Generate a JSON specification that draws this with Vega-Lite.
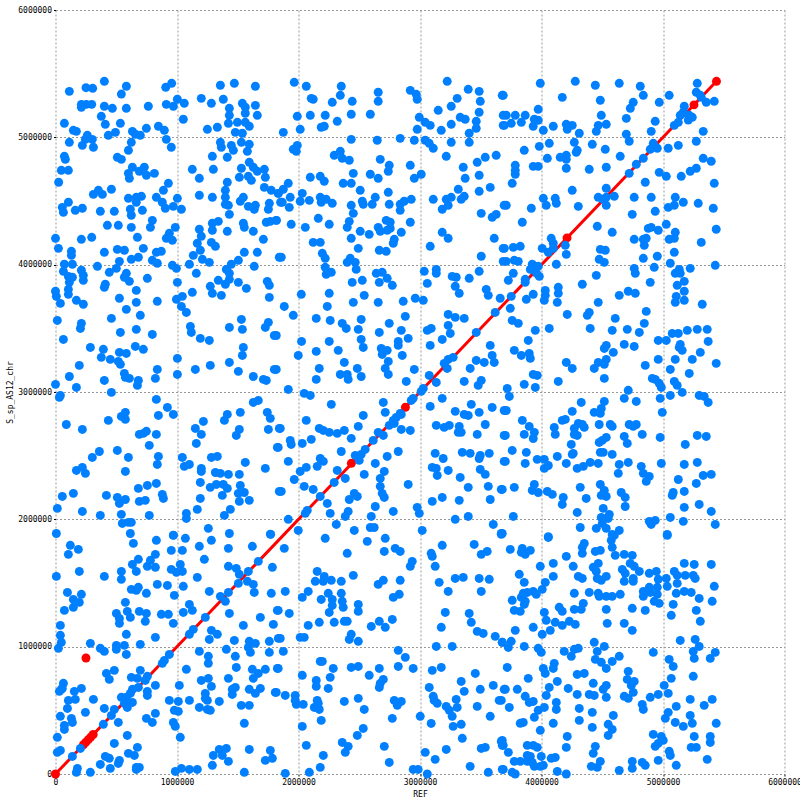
{"$schema":"https://vega.github.io/schema/vega-lite/v6.json","width":729,"height":764,"autosize":"none","padding":{"left":55.5,"top":10,"right":15.5,"bottom":26},"background":"white","config":{"view":{"stroke":null},"axis":{"grid":true,"gridColor":"#999999","gridDash":[2,2],"gridWidth":1,"domain":false,"tickColor":"#000000","tickSize":2,"labelFont":"DejaVu Sans Mono","labelFontSize":8,"labelColor":"#000000","labelPadding":2,"titleFont":"DejaVu Sans Mono","titleFontSize":8,"titleFontWeight":"normal","titleColor":"#000000","labelOverlap":false,"labelBound":false,"labelFlush":false}},"datasets":{"alignment":[{"x":0,"y":0},{"x":5440000,"y":5440000}],"matches":[{"x":0,"y":0},{"x":230000,"y":230000},{"x":250000,"y":250000},{"x":270000,"y":270000},{"x":290000,"y":290000},{"x":310000,"y":310000},{"x":251000,"y":911000},{"x":2435000,"y":2440000},{"x":2880000,"y":2880000},{"x":4210000,"y":4210000},{"x":5440000,"y":5440000}],"top":[{"x":5255000,"y":5255000}],"points":[{"x":114000,"y":5361000},{"x":251000,"y":5390000},{"x":306000,"y":5385000},{"x":402000,"y":5440000},{"x":583000,"y":5401000},{"x":542000,"y":5340000},{"x":907000,"y":5393000},{"x":956000,"y":5424000},{"x":213000,"y":5259000},{"x":213000,"y":5236000},{"x":254000,"y":5259000},{"x":298000,"y":5259000},{"x":402000,"y":5244000},{"x":468000,"y":5228000},{"x":583000,"y":5228000},{"x":764000,"y":5244000},{"x":912000,"y":5259000},{"x":970000,"y":5244000},{"x":1003000,"y":5299000},{"x":1060000,"y":5267000},{"x":1052000,"y":5142000},{"x":377000,"y":5165000},{"x":73000,"y":5110000},{"x":410000,"y":5102000},{"x":534000,"y":5110000},{"x":147000,"y":5055000},{"x":172000,"y":5047000},{"x":262000,"y":5016000},{"x":435000,"y":5016000},{"x":493000,"y":5039000},{"x":633000,"y":5047000},{"x":657000,"y":5024000},{"x":698000,"y":5016000},{"x":748000,"y":5071000},{"x":847000,"y":5087000},{"x":896000,"y":5055000},{"x":912000,"y":4984000},{"x":953000,"y":4922000},{"x":114000,"y":4961000},{"x":221000,"y":4937000},{"x":246000,"y":4984000},{"x":303000,"y":4984000},{"x":312000,"y":4922000},{"x":624000,"y":4961000},{"x":600000,"y":4898000},{"x":73000,"y":4851000},{"x":81000,"y":4827000},{"x":509000,"y":4843000},{"x":542000,"y":4827000},{"x":633000,"y":4765000},{"x":731000,"y":4765000},{"x":48000,"y":4741000},{"x":106000,"y":4741000},{"x":600000,"y":4717000},{"x":608000,"y":4678000},{"x":690000,"y":4733000},{"x":748000,"y":4702000},{"x":814000,"y":4717000},{"x":26000,"y":4647000},{"x":929000,"y":4639000},{"x":888000,"y":4584000},{"x":460000,"y":4592000},{"x":312000,"y":4552000},{"x":353000,"y":4584000},{"x":386000,"y":4552000},{"x":600000,"y":4521000},{"x":665000,"y":4529000},{"x":707000,"y":4537000},{"x":665000,"y":4490000},{"x":830000,"y":4529000},{"x":879000,"y":4490000},{"x":904000,"y":4443000},{"x":970000,"y":4458000},{"x":1003000,"y":4521000},{"x":1036000,"y":4435000},{"x":106000,"y":4490000},{"x":56000,"y":4450000},{"x":65000,"y":4411000},{"x":163000,"y":4427000},{"x":221000,"y":4443000},{"x":369000,"y":4419000},{"x":484000,"y":4419000},{"x":616000,"y":4435000},{"x":624000,"y":4388000},{"x":715000,"y":4427000},{"x":427000,"y":4309000},{"x":517000,"y":4309000},{"x":624000,"y":4293000},{"x":797000,"y":4348000},{"x":781000,"y":4293000},{"x":986000,"y":4293000},{"x":937000,"y":4246000},{"x":912000,"y":4207000},{"x":962000,"y":4191000},{"x":674000,"y":4215000},{"x":0,"y":4207000},{"x":213000,"y":4199000},{"x":298000,"y":4215000},{"x":24000,"y":4128000},{"x":131000,"y":4105000},{"x":131000,"y":4073000},{"x":402000,"y":4097000},{"x":509000,"y":4120000},{"x":567000,"y":4113000},{"x":723000,"y":4128000},{"x":830000,"y":4097000},{"x":871000,"y":4105000},{"x":624000,"y":4042000},{"x":682000,"y":4058000},{"x":797000,"y":4034000},{"x":838000,"y":4011000},{"x":526000,"y":4026000},{"x":501000,"y":3971000},{"x":443000,"y":3940000},{"x":345000,"y":3987000},{"x":962000,"y":3995000},{"x":995000,"y":3971000},{"x":139000,"y":4003000},{"x":73000,"y":4003000},{"x":65000,"y":3948000},{"x":213000,"y":3956000},{"x":229000,"y":3916000},{"x":229000,"y":3877000},{"x":106000,"y":3908000},{"x":139000,"y":3901000},{"x":114000,"y":3861000},{"x":583000,"y":3932000},{"x":567000,"y":3901000},{"x":608000,"y":3869000},{"x":756000,"y":3893000},{"x":410000,"y":3846000},{"x":402000,"y":3822000},{"x":106000,"y":3806000},{"x":106000,"y":3767000},{"x":0,"y":3791000},{"x":7000,"y":3751000},{"x":172000,"y":3720000},{"x":665000,"y":3798000},{"x":526000,"y":3736000},{"x":665000,"y":3704000},{"x":838000,"y":3712000},{"x":995000,"y":3728000},{"x":1044000,"y":3751000},{"x":1003000,"y":3861000},{"x":40000,"y":3696000},{"x":229000,"y":3689000},{"x":1357000,"y":5409000},{"x":1472000,"y":5424000},{"x":1645000,"y":5401000},{"x":1200000,"y":5306000},{"x":1283000,"y":5267000},{"x":1381000,"y":5299000},{"x":1431000,"y":5228000},{"x":1431000,"y":5173000},{"x":1423000,"y":5110000},{"x":1538000,"y":5267000},{"x":1562000,"y":5236000},{"x":1645000,"y":5251000},{"x":1661000,"y":5173000},{"x":1562000,"y":5189000},{"x":1497000,"y":5118000},{"x":1562000,"y":5118000},{"x":1595000,"y":5087000},{"x":1250000,"y":5063000},{"x":1332000,"y":5079000},{"x":1480000,"y":5039000},{"x":1538000,"y":5032000},{"x":1357000,"y":4961000},{"x":1365000,"y":4922000},{"x":1447000,"y":4937000},{"x":1464000,"y":4898000},{"x":1414000,"y":4843000},{"x":1530000,"y":4961000},{"x":1595000,"y":4945000},{"x":1579000,"y":4890000},{"x":1291000,"y":4851000},{"x":1595000,"y":4804000},{"x":1628000,"y":4765000},{"x":1661000,"y":4733000},{"x":1719000,"y":4749000},{"x":1727000,"y":4686000},{"x":1126000,"y":4749000},{"x":1299000,"y":4749000},{"x":1184000,"y":4678000},{"x":1530000,"y":4757000},{"x":1513000,"y":4686000},{"x":1587000,"y":4694000},{"x":1612000,"y":4662000},{"x":1414000,"y":4647000},{"x":1398000,"y":4584000},{"x":1398000,"y":4529000},{"x":1398000,"y":4474000},{"x":1423000,"y":4466000},{"x":1184000,"y":4545000},{"x":1291000,"y":4529000},{"x":1546000,"y":4529000},{"x":1521000,"y":4498000},{"x":1587000,"y":4458000},{"x":1636000,"y":4435000},{"x":1645000,"y":4466000},{"x":1760000,"y":4482000},{"x":1752000,"y":4435000},{"x":1719000,"y":4607000},{"x":1776000,"y":4584000},{"x":1834000,"y":4560000},{"x":1853000,"y":4490000},{"x":1431000,"y":4395000},{"x":1546000,"y":4325000},{"x":1554000,"y":4293000},{"x":1735000,"y":4333000},{"x":1768000,"y":4340000},{"x":1818000,"y":4348000},{"x":1628000,"y":4262000},{"x":1711000,"y":4199000},{"x":1291000,"y":4325000},{"x":1340000,"y":4340000},{"x":1291000,"y":4270000},{"x":1414000,"y":4262000},{"x":1184000,"y":4278000},{"x":1200000,"y":4223000},{"x":1167000,"y":4168000},{"x":1192000,"y":4113000},{"x":1134000,"y":4073000},{"x":1283000,"y":4175000},{"x":1316000,"y":4144000},{"x":1209000,"y":4042000},{"x":1266000,"y":4018000},{"x":1102000,"y":4003000},{"x":1554000,"y":4097000},{"x":1661000,"y":4097000},{"x":1505000,"y":4034000},{"x":1447000,"y":4003000},{"x":1406000,"y":3963000},{"x":1636000,"y":3987000},{"x":1431000,"y":3932000},{"x":1431000,"y":3885000},{"x":1340000,"y":3877000},{"x":1398000,"y":3846000},{"x":1274000,"y":3830000},{"x":1291000,"y":3775000},{"x":1365000,"y":3759000},{"x":1505000,"y":3861000},{"x":1571000,"y":3814000},{"x":1159000,"y":3932000},{"x":1126000,"y":3783000},{"x":1743000,"y":3869000},{"x":1760000,"y":3838000},{"x":1760000,"y":3743000},{"x":1842000,"y":4058000},{"x":1965000,"y":5432000},{"x":2064000,"y":5401000},{"x":2352000,"y":5401000},{"x":2344000,"y":5330000},{"x":2105000,"y":5306000},{"x":2121000,"y":5299000},{"x":2278000,"y":5275000},{"x":2442000,"y":5283000},{"x":2656000,"y":5354000},{"x":2656000,"y":5283000},{"x":2920000,"y":5369000},{"x":2969000,"y":5338000},{"x":2977000,"y":5299000},{"x":3224000,"y":5440000},{"x":3397000,"y":5377000},{"x":3487000,"y":5361000},{"x":3306000,"y":5306000},{"x":3496000,"y":5283000},{"x":3677000,"y":5330000},{"x":3257000,"y":5244000},{"x":3150000,"y":5212000},{"x":3487000,"y":5197000},{"x":3685000,"y":5173000},{"x":1990000,"y":5165000},{"x":2097000,"y":5173000},{"x":2220000,"y":5173000},{"x":2434000,"y":5181000},{"x":2591000,"y":5181000},{"x":2319000,"y":5126000},{"x":2187000,"y":5079000},{"x":2212000,"y":5087000},{"x":2014000,"y":5063000},{"x":1875000,"y":5039000},{"x":2994000,"y":5157000},{"x":3043000,"y":5118000},{"x":3084000,"y":5094000},{"x":3257000,"y":5102000},{"x":3331000,"y":5157000},{"x":3372000,"y":5142000},{"x":3463000,"y":5126000},{"x":3463000,"y":5071000},{"x":3685000,"y":5094000},{"x":2977000,"y":5063000},{"x":3175000,"y":5055000},{"x":3405000,"y":5032000},{"x":2434000,"y":4984000},{"x":2648000,"y":4977000},{"x":2837000,"y":4992000},{"x":2953000,"y":4977000},{"x":3043000,"y":4977000},{"x":3076000,"y":4953000},{"x":3109000,"y":4914000},{"x":3257000,"y":4961000},{"x":3405000,"y":4961000},{"x":1990000,"y":4937000},{"x":1957000,"y":4906000},{"x":1982000,"y":4890000},{"x":2294000,"y":4859000},{"x":2344000,"y":4890000},{"x":2360000,"y":4835000},{"x":2418000,"y":4820000},{"x":2673000,"y":4827000},{"x":3216000,"y":4851000},{"x":3627000,"y":4859000},{"x":3537000,"y":4843000},{"x":3471000,"y":4804000},{"x":2747000,"y":4780000},{"x":2739000,"y":4733000},{"x":2920000,"y":4780000},{"x":3356000,"y":4765000},{"x":2451000,"y":4717000},{"x":2591000,"y":4710000},{"x":2656000,"y":4678000},{"x":3010000,"y":4710000},{"x":2953000,"y":4678000},{"x":3372000,"y":4678000},{"x":3487000,"y":4702000},{"x":2097000,"y":4686000},{"x":2179000,"y":4694000},{"x":2212000,"y":4655000},{"x":2368000,"y":4639000},{"x":2434000,"y":4639000},{"x":1916000,"y":4639000},{"x":1875000,"y":4592000},{"x":1833000,"y":4560000},{"x":2508000,"y":4584000},{"x":2739000,"y":4568000},{"x":3315000,"y":4592000},{"x":3578000,"y":4607000},{"x":3487000,"y":4576000},{"x":2031000,"y":4560000},{"x":1932000,"y":4529000},{"x":2179000,"y":4529000},{"x":2228000,"y":4513000},{"x":2632000,"y":4529000},{"x":2525000,"y":4498000},{"x":2928000,"y":4513000},{"x":2870000,"y":4498000},{"x":2837000,"y":4474000},{"x":3109000,"y":4513000},{"x":3257000,"y":4529000},{"x":3216000,"y":4513000},{"x":3364000,"y":4537000},{"x":3339000,"y":4513000},{"x":1866000,"y":4490000},{"x":2014000,"y":4498000},{"x":2089000,"y":4505000},{"x":2187000,"y":4490000},{"x":2278000,"y":4482000},{"x":2434000,"y":4466000},{"x":2533000,"y":4474000},{"x":2607000,"y":4474000},{"x":2747000,"y":4474000},{"x":3232000,"y":4466000},{"x":3183000,"y":4435000},{"x":1924000,"y":4450000},{"x":2451000,"y":4403000},{"x":2837000,"y":4427000},{"x":3693000,"y":4466000},{"x":3504000,"y":4403000},{"x":3627000,"y":4395000},{"x":3594000,"y":4372000},{"x":2163000,"y":4364000},{"x":1817000,"y":4348000},{"x":1940000,"y":4317000},{"x":2056000,"y":4293000},{"x":2253000,"y":4317000},{"x":2418000,"y":4340000},{"x":2401000,"y":4293000},{"x":2722000,"y":4348000},{"x":2755000,"y":4333000},{"x":2920000,"y":4333000},{"x":2755000,"y":4285000},{"x":2656000,"y":4293000},{"x":2673000,"y":4262000},{"x":2730000,"y":4270000},{"x":2508000,"y":4262000},{"x":2582000,"y":4238000},{"x":2846000,"y":4254000},{"x":3183000,"y":4254000},{"x":3232000,"y":4207000},{"x":2434000,"y":4207000},{"x":2788000,"y":4199000},{"x":2780000,"y":4168000},{"x":2121000,"y":4175000},{"x":2179000,"y":4175000},{"x":3611000,"y":4207000},{"x":3084000,"y":4144000},{"x":2492000,"y":4128000},{"x":2665000,"y":4113000},{"x":2722000,"y":4105000},{"x":3685000,"y":4128000},{"x":2196000,"y":4089000},{"x":2220000,"y":4050000},{"x":1858000,"y":4058000},{"x":3504000,"y":4066000},{"x":2426000,"y":4050000},{"x":2401000,"y":4018000},{"x":2467000,"y":4018000},{"x":2475000,"y":3963000},{"x":3685000,"y":4026000},{"x":2220000,"y":3979000},{"x":2228000,"y":3924000},{"x":2270000,"y":3940000},{"x":2640000,"y":3932000},{"x":2689000,"y":3940000},{"x":2730000,"y":3893000},{"x":2665000,"y":3861000},{"x":2772000,"y":3838000},{"x":3035000,"y":3948000},{"x":3134000,"y":3963000},{"x":3134000,"y":3932000},{"x":3487000,"y":3948000},{"x":3265000,"y":3908000},{"x":3298000,"y":3901000},{"x":3405000,"y":3893000},{"x":2442000,"y":3861000},{"x":2525000,"y":3877000},{"x":3060000,"y":3853000},{"x":3290000,"y":3830000},{"x":3323000,"y":3775000},{"x":3545000,"y":3806000},{"x":3562000,"y":3759000},{"x":2023000,"y":3767000},{"x":2253000,"y":3775000},{"x":2541000,"y":3759000},{"x":2451000,"y":3704000},{"x":2656000,"y":3704000},{"x":2862000,"y":3712000},{"x":2961000,"y":3736000},{"x":3027000,"y":3720000},{"x":3660000,"y":3736000},{"x":3990000,"y":5424000},{"x":4278000,"y":5440000},{"x":4443000,"y":5409000},{"x":4640000,"y":5424000},{"x":4813000,"y":5401000},{"x":3685000,"y":5330000},{"x":4171000,"y":5314000},{"x":4838000,"y":5330000},{"x":5051000,"y":5330000},{"x":5282000,"y":5424000},{"x":5274000,"y":5354000},{"x":5307000,"y":5330000},{"x":4484000,"y":5291000},{"x":4755000,"y":5275000},{"x":4731000,"y":5228000},{"x":4969000,"y":5275000},{"x":3973000,"y":5220000},{"x":3710000,"y":5173000},{"x":3784000,"y":5173000},{"x":3866000,"y":5173000},{"x":3941000,"y":5142000},{"x":3973000,"y":5134000},{"x":3694000,"y":5094000},{"x":3751000,"y":5110000},{"x":3834000,"y":5118000},{"x":3932000,"y":5087000},{"x":4015000,"y":5055000},{"x":4097000,"y":5087000},{"x":4204000,"y":5102000},{"x":4253000,"y":5094000},{"x":4212000,"y":5063000},{"x":4311000,"y":5032000},{"x":4492000,"y":5173000},{"x":4533000,"y":5102000},{"x":4467000,"y":5094000},{"x":4451000,"y":5047000},{"x":4698000,"y":5149000},{"x":4698000,"y":5024000},{"x":4722000,"y":4969000},{"x":4936000,"y":5126000},{"x":4903000,"y":5047000},{"x":5331000,"y":5047000},{"x":5274000,"y":4969000},{"x":3858000,"y":4898000},{"x":3982000,"y":4929000},{"x":4064000,"y":4953000},{"x":4270000,"y":4961000},{"x":4418000,"y":4945000},{"x":4525000,"y":4906000},{"x":4294000,"y":4898000},{"x":4286000,"y":4882000},{"x":4048000,"y":4835000},{"x":4154000,"y":4843000},{"x":4204000,"y":4859000},{"x":4204000,"y":4827000},{"x":4648000,"y":4851000},{"x":4920000,"y":4953000},{"x":4895000,"y":4906000},{"x":4953000,"y":4914000},{"x":5043000,"y":4914000},{"x":5126000,"y":4937000},{"x":5331000,"y":4835000},{"x":5397000,"y":4812000},{"x":4838000,"y":4835000},{"x":3784000,"y":4780000},{"x":3784000,"y":4741000},{"x":3784000,"y":4710000},{"x":3932000,"y":4772000},{"x":3973000,"y":4772000},{"x":4204000,"y":4757000},{"x":4393000,"y":4749000},{"x":4533000,"y":4765000},{"x":4780000,"y":4788000},{"x":4722000,"y":4717000},{"x":4969000,"y":4725000},{"x":5027000,"y":4694000},{"x":5150000,"y":4694000},{"x":5224000,"y":4733000},{"x":5274000,"y":4757000},{"x":3759000,"y":4639000},{"x":4854000,"y":4647000},{"x":5422000,"y":4639000},{"x":4253000,"y":4584000},{"x":4533000,"y":4600000},{"x":4467000,"y":4529000},{"x":4533000,"y":4529000},{"x":4599000,"y":4537000},{"x":4763000,"y":4529000},{"x":4903000,"y":4529000},{"x":4508000,"y":4513000},{"x":4533000,"y":4466000},{"x":4015000,"y":4521000},{"x":4039000,"y":4466000},{"x":4113000,"y":4521000},{"x":4122000,"y":4482000},{"x":4303000,"y":4458000},{"x":3710000,"y":4466000},{"x":3916000,"y":4443000},{"x":5101000,"y":4529000},{"x":5167000,"y":4490000},{"x":5043000,"y":4450000},{"x":5093000,"y":4466000},{"x":5290000,"y":4482000},{"x":5414000,"y":4443000},{"x":4936000,"y":4419000},{"x":4747000,"y":4395000},{"x":3842000,"y":4333000},{"x":4459000,"y":4301000},{"x":4879000,"y":4285000},{"x":4903000,"y":4293000},{"x":4961000,"y":4270000},{"x":5027000,"y":4317000},{"x":5438000,"y":4278000},{"x":4582000,"y":4254000},{"x":4763000,"y":4199000},{"x":4838000,"y":4199000},{"x":4862000,"y":4207000},{"x":4846000,"y":4152000},{"x":5101000,"y":4254000},{"x":5093000,"y":4207000},{"x":5051000,"y":4199000},{"x":5315000,"y":4175000},{"x":5093000,"y":4097000},{"x":4080000,"y":4207000},{"x":4006000,"y":4128000},{"x":3694000,"y":4128000},{"x":3768000,"y":4136000},{"x":3825000,"y":4144000},{"x":4097000,"y":4168000},{"x":4097000,"y":4128000},{"x":4056000,"y":4097000},{"x":4196000,"y":4152000},{"x":4204000,"y":4081000},{"x":4122000,"y":4003000},{"x":4484000,"y":4120000},{"x":4525000,"y":4113000},{"x":4475000,"y":4042000},{"x":4517000,"y":4018000},{"x":4953000,"y":4066000},{"x":4838000,"y":4050000},{"x":5060000,"y":4011000},{"x":5430000,"y":3995000},{"x":5224000,"y":3971000},{"x":3710000,"y":4026000},{"x":3776000,"y":4034000},{"x":3809000,"y":4026000},{"x":3924000,"y":4003000},{"x":3973000,"y":3987000},{"x":3908000,"y":3963000},{"x":4763000,"y":3971000},{"x":4772000,"y":3932000},{"x":4928000,"y":3979000},{"x":3768000,"y":3932000},{"x":3727000,"y":3877000},{"x":3982000,"y":3908000},{"x":3866000,"y":3885000},{"x":3866000,"y":3861000},{"x":4451000,"y":3916000},{"x":5134000,"y":3963000},{"x":5101000,"y":3932000},{"x":5142000,"y":3932000},{"x":5175000,"y":3869000},{"x":5117000,"y":3838000},{"x":4895000,"y":3861000},{"x":4336000,"y":3846000},{"x":4138000,"y":3822000},{"x":4138000,"y":3775000},{"x":4031000,"y":3798000},{"x":4031000,"y":3759000},{"x":3932000,"y":3767000},{"x":3875000,"y":3728000},{"x":3751000,"y":3751000},{"x":4023000,"y":3720000},{"x":4130000,"y":3704000},{"x":4640000,"y":3759000},{"x":4714000,"y":3791000},{"x":4772000,"y":3775000},{"x":4467000,"y":3704000},{"x":5175000,"y":3791000},{"x":5109000,"y":3751000},{"x":5175000,"y":3720000},{"x":5101000,"y":3704000},{"x":5323000,"y":3689000},{"x":5175000,"y":5244000},{"x":5167000,"y":5197000},{"x":5216000,"y":5173000},{"x":5241000,"y":5157000},{"x":5142000,"y":5173000},{"x":5208000,"y":5136000},{"x":5093000,"y":5094000},{"x":5126000,"y":5118000},{"x":5315000,"y":5314000},{"x":5356000,"y":5275000},{"x":5422000,"y":5283000},{"x":3924000,"y":3963000},{"x":3960000,"y":3932000},{"x":15000,"y":3562000},{"x":460000,"y":3578000},{"x":583000,"y":3649000},{"x":698000,"y":3602000},{"x":213000,"y":3539000},{"x":205000,"y":3499000},{"x":534000,"y":3468000},{"x":665000,"y":3492000},{"x":797000,"y":3452000},{"x":65000,"y":3413000},{"x":287000,"y":3350000},{"x":394000,"y":3335000},{"x":526000,"y":3311000},{"x":583000,"y":3303000},{"x":657000,"y":3358000},{"x":723000,"y":3335000},{"x":377000,"y":3272000},{"x":451000,"y":3256000},{"x":517000,"y":3240000},{"x":534000,"y":3217000},{"x":196000,"y":3209000},{"x":838000,"y":3177000},{"x":114000,"y":3122000},{"x":402000,"y":3091000},{"x":567000,"y":3146000},{"x":575000,"y":3115000},{"x":608000,"y":3107000},{"x":682000,"y":3091000},{"x":674000,"y":3052000},{"x":822000,"y":3107000},{"x":0,"y":3060000},{"x":172000,"y":3036000},{"x":460000,"y":2997000},{"x":40000,"y":2973000},{"x":32000,"y":2958000},{"x":830000,"y":2942000},{"x":921000,"y":2879000},{"x":847000,"y":2816000},{"x":970000,"y":2824000},{"x":575000,"y":2840000},{"x":542000,"y":2808000},{"x":575000,"y":2785000},{"x":435000,"y":2777000},{"x":89000,"y":2745000},{"x":221000,"y":2706000},{"x":748000,"y":2691000},{"x":690000,"y":2667000},{"x":723000,"y":2675000},{"x":830000,"y":2667000},{"x":772000,"y":2581000},{"x":509000,"y":2541000},{"x":361000,"y":2533000},{"x":303000,"y":2486000},{"x":600000,"y":2486000},{"x":847000,"y":2494000},{"x":838000,"y":2431000},{"x":221000,"y":2408000},{"x":172000,"y":2384000},{"x":246000,"y":2361000},{"x":575000,"y":2376000},{"x":830000,"y":2282000},{"x":756000,"y":2266000},{"x":682000,"y":2243000},{"x":419000,"y":2188000},{"x":147000,"y":2204000},{"x":56000,"y":2180000},{"x":509000,"y":2172000},{"x":575000,"y":2156000},{"x":526000,"y":2125000},{"x":690000,"y":2141000},{"x":739000,"y":2149000},{"x":879000,"y":2196000},{"x":888000,"y":2164000},{"x":15000,"y":2086000},{"x":221000,"y":2062000},{"x":369000,"y":2031000},{"x":772000,"y":2031000},{"x":542000,"y":2039000},{"x":550000,"y":1968000},{"x":600000,"y":1976000},{"x":624000,"y":1976000},{"x":616000,"y":1889000},{"x":7000,"y":1889000},{"x":1003000,"y":3264000},{"x":1003000,"y":3138000},{"x":970000,"y":1876000},{"x":1036000,"y":3672000},{"x":1077000,"y":3625000},{"x":1110000,"y":3515000},{"x":1118000,"y":3468000},{"x":1192000,"y":3421000},{"x":1266000,"y":3405000},{"x":1431000,"y":3507000},{"x":1530000,"y":3570000},{"x":1538000,"y":3492000},{"x":1752000,"y":3547000},{"x":1727000,"y":3507000},{"x":1801000,"y":3444000},{"x":1546000,"y":3350000},{"x":1538000,"y":3287000},{"x":1431000,"y":3232000},{"x":1274000,"y":3209000},{"x":1151000,"y":3177000},{"x":1505000,"y":3162000},{"x":1628000,"y":3122000},{"x":1711000,"y":3099000},{"x":1735000,"y":3091000},{"x":1801000,"y":3177000},{"x":1628000,"y":2918000},{"x":1669000,"y":2934000},{"x":1743000,"y":2840000},{"x":1768000,"y":2793000},{"x":1752000,"y":2706000},{"x":1842000,"y":2714000},{"x":1521000,"y":2840000},{"x":1414000,"y":2824000},{"x":1390000,"y":2777000},{"x":1217000,"y":2769000},{"x":1151000,"y":2714000},{"x":1200000,"y":2667000},{"x":1513000,"y":2706000},{"x":1488000,"y":2659000},{"x":1159000,"y":2596000},{"x":1826000,"y":2565000},{"x":1044000,"y":2486000},{"x":1283000,"y":2486000},{"x":1332000,"y":2494000},{"x":1060000,"y":2416000},{"x":1102000,"y":2431000},{"x":1562000,"y":2447000},{"x":1200000,"y":2400000},{"x":1200000,"y":2376000},{"x":1727000,"y":2400000},{"x":1316000,"y":2368000},{"x":1357000,"y":2361000},{"x":1423000,"y":2353000},{"x":1513000,"y":2353000},{"x":1192000,"y":2290000},{"x":1274000,"y":2251000},{"x":1324000,"y":2274000},{"x":1381000,"y":2274000},{"x":1414000,"y":2243000},{"x":1521000,"y":2266000},{"x":1505000,"y":2204000},{"x":1554000,"y":2211000},{"x":1373000,"y":2188000},{"x":1192000,"y":2164000},{"x":1513000,"y":2141000},{"x":1595000,"y":2149000},{"x":1842000,"y":2219000},{"x":1167000,"y":2078000},{"x":1439000,"y":2078000},{"x":1390000,"y":2031000},{"x":1077000,"y":2047000},{"x":1077000,"y":2007000},{"x":1258000,"y":1929000},{"x":1431000,"y":1889000},{"x":1768000,"y":1884000},{"x":1883000,"y":3672000},{"x":1957000,"y":3602000},{"x":2237000,"y":3672000},{"x":2146000,"y":3578000},{"x":2261000,"y":3562000},{"x":2360000,"y":3539000},{"x":2393000,"y":3499000},{"x":2492000,"y":3492000},{"x":2516000,"y":3570000},{"x":2747000,"y":3539000},{"x":2879000,"y":3594000},{"x":3232000,"y":3609000},{"x":3290000,"y":3586000},{"x":3364000,"y":3578000},{"x":3232000,"y":3523000},{"x":3249000,"y":3460000},{"x":3060000,"y":3484000},{"x":3092000,"y":3499000},{"x":2665000,"y":3468000},{"x":2846000,"y":3484000},{"x":1817000,"y":3444000},{"x":2025000,"y":3397000},{"x":2253000,"y":3397000},{"x":2516000,"y":3413000},{"x":2533000,"y":3350000},{"x":2821000,"y":3397000},{"x":2821000,"y":3366000},{"x":2903000,"y":3421000},{"x":3084000,"y":3366000},{"x":3183000,"y":3413000},{"x":3578000,"y":3366000},{"x":1998000,"y":3287000},{"x":2146000,"y":3319000},{"x":2327000,"y":3327000},{"x":2681000,"y":3342000},{"x":2730000,"y":3327000},{"x":2689000,"y":3295000},{"x":2854000,"y":3287000},{"x":2739000,"y":3240000},{"x":2377000,"y":3232000},{"x":3463000,"y":3248000},{"x":3529000,"y":3232000},{"x":3594000,"y":3287000},{"x":3611000,"y":3232000},{"x":2171000,"y":3185000},{"x":2484000,"y":3185000},{"x":2714000,"y":3185000},{"x":2739000,"y":3138000},{"x":2953000,"y":3177000},{"x":1817000,"y":3177000},{"x":2344000,"y":3138000},{"x":2401000,"y":3138000},{"x":2409000,"y":3099000},{"x":2516000,"y":3122000},{"x":2146000,"y":3099000},{"x":3076000,"y":3130000},{"x":3413000,"y":3185000},{"x":2887000,"y":3083000},{"x":3134000,"y":3075000},{"x":3364000,"y":3083000},{"x":3504000,"y":3091000},{"x":3479000,"y":3052000},{"x":1916000,"y":3020000},{"x":2047000,"y":2989000},{"x":2097000,"y":2973000},{"x":2270000,"y":2903000},{"x":2698000,"y":2918000},{"x":3183000,"y":2950000},{"x":3084000,"y":2887000},{"x":2533000,"y":2816000},{"x":2064000,"y":2777000},{"x":3422000,"y":2903000},{"x":3487000,"y":2840000},{"x":3594000,"y":2879000},{"x":3693000,"y":2855000},{"x":3290000,"y":2848000},{"x":3364000,"y":2824000},{"x":3397000,"y":2816000},{"x":1850000,"y":2714000},{"x":2171000,"y":2714000},{"x":2204000,"y":2698000},{"x":2253000,"y":2683000},{"x":2319000,"y":2675000},{"x":2377000,"y":2698000},{"x":2492000,"y":2730000},{"x":3537000,"y":2745000},{"x":3134000,"y":2738000},{"x":3199000,"y":2722000},{"x":3241000,"y":2738000},{"x":3323000,"y":2730000},{"x":3315000,"y":2683000},{"x":3339000,"y":2683000},{"x":3471000,"y":2667000},{"x":3693000,"y":2659000},{"x":2920000,"y":2698000},{"x":2846000,"y":2706000},{"x":2434000,"y":2636000},{"x":2105000,"y":2628000},{"x":1932000,"y":2620000},{"x":1940000,"y":2588000},{"x":2031000,"y":2596000},{"x":1833000,"y":2565000},{"x":2352000,"y":2533000},{"x":2821000,"y":2533000},{"x":2730000,"y":2494000},{"x":3125000,"y":2518000},{"x":3191000,"y":2478000},{"x":3348000,"y":2526000},{"x":3413000,"y":2518000},{"x":3496000,"y":2502000},{"x":3487000,"y":2478000},{"x":3570000,"y":2518000},{"x":2179000,"y":2478000},{"x":2204000,"y":2455000},{"x":2154000,"y":2416000},{"x":1916000,"y":2455000},{"x":2064000,"y":2408000},{"x":2014000,"y":2376000},{"x":2632000,"y":2439000},{"x":3693000,"y":2455000},{"x":3101000,"y":2408000},{"x":3134000,"y":2400000},{"x":3142000,"y":2345000},{"x":3232000,"y":2384000},{"x":3496000,"y":2392000},{"x":3537000,"y":2353000},{"x":2706000,"y":2376000},{"x":2541000,"y":2353000},{"x":2319000,"y":2384000},{"x":2385000,"y":2321000},{"x":2673000,"y":2321000},{"x":3331000,"y":2329000},{"x":1965000,"y":2313000},{"x":2047000,"y":2259000},{"x":2121000,"y":2235000},{"x":1858000,"y":2219000},{"x":2673000,"y":2259000},{"x":2903000,"y":2274000},{"x":3397000,"y":2251000},{"x":3562000,"y":2259000},{"x":3669000,"y":2235000},{"x":2689000,"y":2204000},{"x":2706000,"y":2172000},{"x":2459000,"y":2204000},{"x":2484000,"y":2180000},{"x":2418000,"y":2156000},{"x":2237000,"y":2125000},{"x":2632000,"y":2101000},{"x":3101000,"y":2141000},{"x":3183000,"y":2172000},{"x":3323000,"y":2149000},{"x":3578000,"y":2156000},{"x":2977000,"y":2094000},{"x":2994000,"y":2047000},{"x":2409000,"y":2062000},{"x":2385000,"y":2023000},{"x":2261000,"y":2047000},{"x":2780000,"y":2062000},{"x":2599000,"y":2023000},{"x":1916000,"y":2000000},{"x":3290000,"y":2000000},{"x":3397000,"y":2023000},{"x":2311000,"y":1960000},{"x":3603000,"y":1960000},{"x":2591000,"y":1936000},{"x":2623000,"y":1936000},{"x":2459000,"y":1913000},{"x":3018000,"y":1913000},{"x":1998000,"y":1913000},{"x":3669000,"y":1889000},{"x":3619000,"y":3625000},{"x":3463000,"y":3468000},{"x":3232000,"y":3256000},{"x":3273000,"y":3272000},{"x":3199000,"y":3225000},{"x":3224000,"y":3185000},{"x":3027000,"y":3028000},{"x":3010000,"y":3005000},{"x":2928000,"y":2934000},{"x":2944000,"y":2950000},{"x":2837000,"y":2832000},{"x":2780000,"y":2777000},{"x":2747000,"y":2738000},{"x":2804000,"y":2800000},{"x":2714000,"y":2840000},{"x":2788000,"y":2753000},{"x":2846000,"y":2824000},{"x":2656000,"y":2683000},{"x":2698000,"y":2659000},{"x":2615000,"y":2620000},{"x":2549000,"y":2549000},{"x":2516000,"y":2510000},{"x":2467000,"y":2502000},{"x":2500000,"y":2463000},{"x":2294000,"y":2290000},{"x":2179000,"y":2180000},{"x":2072000,"y":2070000},{"x":2056000,"y":2047000},{"x":3743000,"y":3657000},{"x":4212000,"y":3609000},{"x":4393000,"y":3625000},{"x":4377000,"y":3602000},{"x":4607000,"y":3578000},{"x":4862000,"y":3633000},{"x":3759000,"y":3562000},{"x":3809000,"y":3539000},{"x":3949000,"y":3484000},{"x":4064000,"y":3499000},{"x":4401000,"y":3499000},{"x":4582000,"y":3484000},{"x":4706000,"y":3492000},{"x":4846000,"y":3539000},{"x":4805000,"y":3468000},{"x":4961000,"y":3405000},{"x":5027000,"y":3405000},{"x":5076000,"y":3460000},{"x":5126000,"y":3460000},{"x":5200000,"y":3484000},{"x":5282000,"y":3492000},{"x":5364000,"y":3492000},{"x":3891000,"y":3405000},{"x":3776000,"y":3327000},{"x":3834000,"y":3287000},{"x":3899000,"y":3303000},{"x":3908000,"y":3264000},{"x":4533000,"y":3366000},{"x":4517000,"y":3342000},{"x":4591000,"y":3311000},{"x":4681000,"y":3374000},{"x":4763000,"y":3358000},{"x":5142000,"y":3374000},{"x":5134000,"y":3350000},{"x":5158000,"y":3327000},{"x":5307000,"y":3311000},{"x":5372000,"y":3397000},{"x":4204000,"y":3232000},{"x":4253000,"y":3185000},{"x":4434000,"y":3185000},{"x":4467000,"y":3232000},{"x":4533000,"y":3256000},{"x":4517000,"y":3217000},{"x":4854000,"y":3209000},{"x":4961000,"y":3256000},{"x":5101000,"y":3256000},{"x":5241000,"y":3256000},{"x":5438000,"y":3225000},{"x":5060000,"y":3177000},{"x":5216000,"y":3146000},{"x":3932000,"y":3138000},{"x":3965000,"y":3130000},{"x":3858000,"y":3060000},{"x":3949000,"y":3036000},{"x":4138000,"y":3083000},{"x":4517000,"y":3107000},{"x":4912000,"y":3107000},{"x":4936000,"y":3099000},{"x":4969000,"y":3068000},{"x":4986000,"y":3036000},{"x":5093000,"y":3083000},{"x":5117000,"y":3052000},{"x":5158000,"y":2997000},{"x":3718000,"y":3028000},{"x":3735000,"y":2965000},{"x":4714000,"y":3013000},{"x":4681000,"y":2950000},{"x":4780000,"y":2926000},{"x":4977000,"y":2950000},{"x":5060000,"y":2973000},{"x":5298000,"y":2973000},{"x":5339000,"y":2965000},{"x":5372000,"y":2918000},{"x":4327000,"y":2918000},{"x":4517000,"y":2926000},{"x":3710000,"y":2855000},{"x":4253000,"y":2848000},{"x":4434000,"y":2840000},{"x":4492000,"y":2871000},{"x":4484000,"y":2832000},{"x":4994000,"y":2840000},{"x":3842000,"y":2777000},{"x":4171000,"y":2777000},{"x":4196000,"y":2785000},{"x":3899000,"y":2730000},{"x":3941000,"y":2683000},{"x":3932000,"y":2635000},{"x":3858000,"y":2667000},{"x":3702000,"y":2659000},{"x":4105000,"y":2722000},{"x":4113000,"y":2667000},{"x":4303000,"y":2753000},{"x":4336000,"y":2745000},{"x":4352000,"y":2722000},{"x":4270000,"y":2714000},{"x":4270000,"y":2667000},{"x":4294000,"y":2659000},{"x":4475000,"y":2745000},{"x":4566000,"y":2745000},{"x":4582000,"y":2730000},{"x":4722000,"y":2745000},{"x":4755000,"y":2730000},{"x":4780000,"y":2745000},{"x":4829000,"y":2667000},{"x":4681000,"y":2651000},{"x":4706000,"y":2596000},{"x":4977000,"y":2643000},{"x":5282000,"y":2659000},{"x":5356000,"y":2651000},{"x":5183000,"y":2588000},{"x":4533000,"y":2643000},{"x":4500000,"y":2620000},{"x":4475000,"y":2604000},{"x":4245000,"y":2588000},{"x":3759000,"y":2541000},{"x":3875000,"y":2526000},{"x":3702000,"y":2455000},{"x":3866000,"y":2439000},{"x":3965000,"y":2471000},{"x":4023000,"y":2471000},{"x":4056000,"y":2423000},{"x":4023000,"y":2400000},{"x":4130000,"y":2494000},{"x":4253000,"y":2510000},{"x":4261000,"y":2518000},{"x":4204000,"y":2439000},{"x":4294000,"y":2400000},{"x":4344000,"y":2416000},{"x":4401000,"y":2447000},{"x":4467000,"y":2439000},{"x":4484000,"y":2526000},{"x":4508000,"y":2526000},{"x":4582000,"y":2510000},{"x":4640000,"y":2431000},{"x":4714000,"y":2447000},{"x":4632000,"y":2361000},{"x":4821000,"y":2416000},{"x":4838000,"y":2361000},{"x":4887000,"y":2337000},{"x":4862000,"y":2298000},{"x":4986000,"y":2439000},{"x":5175000,"y":2431000},{"x":5282000,"y":2447000},{"x":5126000,"y":2313000},{"x":5331000,"y":2345000},{"x":5397000,"y":2353000},{"x":5274000,"y":2282000},{"x":3677000,"y":2235000},{"x":3776000,"y":2251000},{"x":3941000,"y":2274000},{"x":3924000,"y":2227000},{"x":3973000,"y":2211000},{"x":4048000,"y":2219000},{"x":4089000,"y":2196000},{"x":4319000,"y":2251000},{"x":4179000,"y":2172000},{"x":4171000,"y":2117000},{"x":4368000,"y":2164000},{"x":4484000,"y":2274000},{"x":4517000,"y":2227000},{"x":4492000,"y":2188000},{"x":4533000,"y":2180000},{"x":4656000,"y":2211000},{"x":4689000,"y":2172000},{"x":4689000,"y":2101000},{"x":5084000,"y":2211000},{"x":5076000,"y":2188000},{"x":5175000,"y":2219000},{"x":4294000,"y":2054000},{"x":4508000,"y":2086000},{"x":4558000,"y":2039000},{"x":4492000,"y":2015000},{"x":4549000,"y":2007000},{"x":5175000,"y":2094000},{"x":5298000,"y":2117000},{"x":5397000,"y":2062000},{"x":3768000,"y":2023000},{"x":5060000,"y":2015000},{"x":5167000,"y":1984000},{"x":4887000,"y":1984000},{"x":4936000,"y":1992000},{"x":4903000,"y":1960000},{"x":5430000,"y":1960000},{"x":4319000,"y":1936000},{"x":4451000,"y":1929000},{"x":4500000,"y":1968000},{"x":4533000,"y":1929000},{"x":4640000,"y":1913000},{"x":4582000,"y":1881000},{"x":3677000,"y":1889000},{"x":4056000,"y":1863000},{"x":5035000,"y":1881000},{"x":970000,"y":1874000},{"x":1069000,"y":1851000},{"x":830000,"y":1835000},{"x":641000,"y":1811000},{"x":1283000,"y":1835000},{"x":122000,"y":1796000},{"x":188000,"y":1764000},{"x":106000,"y":1725000},{"x":1184000,"y":1788000},{"x":1423000,"y":1772000},{"x":1620000,"y":1788000},{"x":1771000,"y":1882000},{"x":953000,"y":1756000},{"x":1044000,"y":1756000},{"x":1225000,"y":1686000},{"x":822000,"y":1725000},{"x":682000,"y":1686000},{"x":633000,"y":1646000},{"x":781000,"y":1678000},{"x":756000,"y":1631000},{"x":822000,"y":1623000},{"x":665000,"y":1591000},{"x":1027000,"y":1646000},{"x":953000,"y":1607000},{"x":995000,"y":1584000},{"x":1044000,"y":1591000},{"x":196000,"y":1591000},{"x":542000,"y":1591000},{"x":7000,"y":1552000},{"x":402000,"y":1552000},{"x":542000,"y":1529000},{"x":1167000,"y":1544000},{"x":1423000,"y":1631000},{"x":1488000,"y":1615000},{"x":1513000,"y":1568000},{"x":1785000,"y":1623000},{"x":1587000,"y":1591000},{"x":1579000,"y":1513000},{"x":1628000,"y":1489000},{"x":1505000,"y":1497000},{"x":1669000,"y":1670000},{"x":838000,"y":1489000},{"x":921000,"y":1481000},{"x":1052000,"y":1474000},{"x":624000,"y":1450000},{"x":682000,"y":1466000},{"x":665000,"y":1442000},{"x":748000,"y":1419000},{"x":978000,"y":1403000},{"x":1266000,"y":1434000},{"x":1636000,"y":1426000},{"x":1776000,"y":1419000},{"x":98000,"y":1426000},{"x":213000,"y":1411000},{"x":147000,"y":1371000},{"x":196000,"y":1348000},{"x":147000,"y":1309000},{"x":73000,"y":1285000},{"x":575000,"y":1348000},{"x":501000,"y":1261000},{"x":526000,"y":1222000},{"x":526000,"y":1183000},{"x":591000,"y":1277000},{"x":616000,"y":1230000},{"x":690000,"y":1277000},{"x":748000,"y":1261000},{"x":739000,"y":1199000},{"x":871000,"y":1254000},{"x":929000,"y":1254000},{"x":970000,"y":1183000},{"x":1102000,"y":1332000},{"x":1126000,"y":1285000},{"x":1052000,"y":1269000},{"x":1431000,"y":1261000},{"x":1398000,"y":1356000},{"x":1357000,"y":1395000},{"x":1423000,"y":1426000},{"x":1826000,"y":1285000},{"x":1686000,"y":1230000},{"x":1793000,"y":1175000},{"x":1546000,"y":1167000},{"x":1233000,"y":1230000},{"x":40000,"y":1167000},{"x":40000,"y":1089000},{"x":48000,"y":1034000},{"x":24000,"y":987000},{"x":583000,"y":1097000},{"x":822000,"y":1073000},{"x":1283000,"y":1128000},{"x":1332000,"y":1097000},{"x":1266000,"y":1057000},{"x":1134000,"y":1136000},{"x":1102000,"y":1097000},{"x":1472000,"y":1049000},{"x":1595000,"y":1042000},{"x":1645000,"y":1026000},{"x":1760000,"y":1042000},{"x":1834000,"y":1065000},{"x":287000,"y":1026000},{"x":369000,"y":987000},{"x":402000,"y":963000},{"x":501000,"y":1010000},{"x":501000,"y":979000},{"x":567000,"y":1010000},{"x":698000,"y":1018000},{"x":583000,"y":939000},{"x":1184000,"y":963000},{"x":1406000,"y":979000},{"x":1604000,"y":955000},{"x":1587000,"y":994000},{"x":1760000,"y":955000},{"x":1258000,"y":924000},{"x":1258000,"y":869000},{"x":1480000,"y":924000},{"x":937000,"y":939000},{"x":896000,"y":892000},{"x":879000,"y":869000},{"x":1077000,"y":822000},{"x":1488000,"y":837000},{"x":1620000,"y":822000},{"x":1727000,"y":822000},{"x":1669000,"y":790000},{"x":1628000,"y":751000},{"x":1826000,"y":829000},{"x":484000,"y":814000},{"x":419000,"y":790000},{"x":443000,"y":743000},{"x":698000,"y":814000},{"x":624000,"y":759000},{"x":674000,"y":751000},{"x":756000,"y":767000},{"x":739000,"y":735000},{"x":1423000,"y":751000},{"x":1200000,"y":735000},{"x":1258000,"y":751000},{"x":822000,"y":696000},{"x":1283000,"y":688000},{"x":1019000,"y":696000},{"x":65000,"y":712000},{"x":56000,"y":672000},{"x":32000,"y":649000},{"x":213000,"y":672000},{"x":155000,"y":649000},{"x":48000,"y":665000},{"x":1480000,"y":680000},{"x":1455000,"y":665000},{"x":1455000,"y":625000},{"x":1595000,"y":665000},{"x":1645000,"y":633000},{"x":1686000,"y":672000},{"x":1809000,"y":641000},{"x":756000,"y":649000},{"x":756000,"y":617000},{"x":682000,"y":680000},{"x":633000,"y":665000},{"x":616000,"y":633000},{"x":583000,"y":602000},{"x":542000,"y":602000},{"x":312000,"y":586000},{"x":163000,"y":586000},{"x":106000,"y":578000},{"x":98000,"y":515000},{"x":246000,"y":484000},{"x":402000,"y":515000},{"x":567000,"y":555000},{"x":591000,"y":523000},{"x":633000,"y":562000},{"x":937000,"y":578000},{"x":1011000,"y":570000},{"x":1102000,"y":578000},{"x":1233000,"y":633000},{"x":1233000,"y":594000},{"x":1250000,"y":578000},{"x":1348000,"y":570000},{"x":1529000,"y":539000},{"x":1595000,"y":539000},{"x":1184000,"y":523000},{"x":1250000,"y":507000},{"x":1274000,"y":500000},{"x":978000,"y":500000},{"x":1011000,"y":492000},{"x":484000,"y":507000},{"x":460000,"y":460000},{"x":822000,"y":476000},{"x":748000,"y":437000},{"x":797000,"y":405000},{"x":40000,"y":453000},{"x":131000,"y":437000},{"x":139000,"y":405000},{"x":73000,"y":382000},{"x":73000,"y":350000},{"x":517000,"y":405000},{"x":394000,"y":390000},{"x":970000,"y":405000},{"x":986000,"y":374000},{"x":1554000,"y":398000},{"x":15000,"y":288000},{"x":591000,"y":303000},{"x":1027000,"y":288000},{"x":484000,"y":240000},{"x":674000,"y":209000},{"x":600000,"y":162000},{"x":649000,"y":146000},{"x":40000,"y":185000},{"x":15000,"y":170000},{"x":139000,"y":138000},{"x":205000,"y":201000},{"x":410000,"y":138000},{"x":443000,"y":123000},{"x":526000,"y":107000},{"x":517000,"y":83000},{"x":369000,"y":75000},{"x":451000,"y":44000},{"x":180000,"y":44000},{"x":172000,"y":13000},{"x":287000,"y":13000},{"x":665000,"y":52000},{"x":690000,"y":52000},{"x":665000,"y":36000},{"x":986000,"y":20000},{"x":1036000,"y":44000},{"x":1102000,"y":36000},{"x":1167000,"y":36000},{"x":1291000,"y":68000},{"x":1348000,"y":193000},{"x":1406000,"y":201000},{"x":1299000,"y":146000},{"x":1373000,"y":146000},{"x":1423000,"y":99000},{"x":1595000,"y":193000},{"x":1768000,"y":185000},{"x":1785000,"y":123000},{"x":1727000,"y":107000},{"x":1554000,"y":13000},{"x":2220000,"y":1851000},{"x":1883000,"y":1772000},{"x":2401000,"y":1733000},{"x":2566000,"y":1827000},{"x":2714000,"y":1851000},{"x":2706000,"y":1748000},{"x":2796000,"y":1772000},{"x":2837000,"y":1748000},{"x":3183000,"y":1796000},{"x":3446000,"y":1803000},{"x":3669000,"y":1882000},{"x":3553000,"y":1748000},{"x":3504000,"y":1725000},{"x":3092000,"y":1733000},{"x":3101000,"y":1709000},{"x":3125000,"y":1631000},{"x":2936000,"y":1670000},{"x":2920000,"y":1631000},{"x":2154000,"y":1591000},{"x":2451000,"y":1560000},{"x":2212000,"y":1552000},{"x":2138000,"y":1513000},{"x":2204000,"y":1513000},{"x":2270000,"y":1521000},{"x":2352000,"y":1513000},{"x":2837000,"y":1521000},{"x":2698000,"y":1521000},{"x":2656000,"y":1489000},{"x":3158000,"y":1505000},{"x":3290000,"y":1536000},{"x":3356000,"y":1544000},{"x":3487000,"y":1536000},{"x":3570000,"y":1529000},{"x":3504000,"y":1434000},{"x":3232000,"y":1434000},{"x":2080000,"y":1434000},{"x":1891000,"y":1434000},{"x":2031000,"y":1387000},{"x":2187000,"y":1371000},{"x":2245000,"y":1419000},{"x":2278000,"y":1371000},{"x":2352000,"y":1419000},{"x":2360000,"y":1356000},{"x":2278000,"y":1324000},{"x":2368000,"y":1309000},{"x":2492000,"y":1332000},{"x":2492000,"y":1277000},{"x":2253000,"y":1269000},{"x":2829000,"y":1411000},{"x":2780000,"y":1387000},{"x":1833000,"y":1285000},{"x":1924000,"y":1261000},{"x":3208000,"y":1269000},{"x":3405000,"y":1261000},{"x":3422000,"y":1191000},{"x":2294000,"y":1191000},{"x":2171000,"y":1191000},{"x":2080000,"y":1167000},{"x":2377000,"y":1199000},{"x":2401000,"y":1199000},{"x":2665000,"y":1199000},{"x":2772000,"y":1214000},{"x":2599000,"y":1159000},{"x":2714000,"y":1152000},{"x":3175000,"y":1152000},{"x":3471000,"y":1120000},{"x":3520000,"y":1104000},{"x":3619000,"y":1081000},{"x":3677000,"y":1034000},{"x":1850000,"y":1065000},{"x":2014000,"y":1073000},{"x":2047000,"y":1073000},{"x":2434000,"y":1097000},{"x":2418000,"y":1057000},{"x":2492000,"y":1042000},{"x":3134000,"y":1002000},{"x":3265000,"y":1002000},{"x":2821000,"y":971000},{"x":1875000,"y":963000},{"x":2879000,"y":916000},{"x":2179000,"y":884000},{"x":2196000,"y":884000},{"x":2286000,"y":829000},{"x":1833000,"y":829000},{"x":2434000,"y":837000},{"x":2492000,"y":845000},{"x":2665000,"y":829000},{"x":2821000,"y":845000},{"x":2944000,"y":829000},{"x":3175000,"y":837000},{"x":3101000,"y":814000},{"x":3455000,"y":790000},{"x":2031000,"y":775000},{"x":2582000,"y":775000},{"x":2261000,"y":759000},{"x":2146000,"y":735000},{"x":2146000,"y":688000},{"x":2245000,"y":672000},{"x":2698000,"y":743000},{"x":2673000,"y":712000},{"x":2665000,"y":680000},{"x":3339000,"y":727000},{"x":3364000,"y":649000},{"x":3076000,"y":680000},{"x":3496000,"y":665000},{"x":3603000,"y":696000},{"x":3693000,"y":665000},{"x":1817000,"y":641000},{"x":1891000,"y":617000},{"x":1973000,"y":617000},{"x":1973000,"y":578000},{"x":1982000,"y":547000},{"x":2039000,"y":547000},{"x":2377000,"y":570000},{"x":2492000,"y":594000},{"x":2154000,"y":578000},{"x":2163000,"y":555000},{"x":2130000,"y":523000},{"x":2171000,"y":507000},{"x":2541000,"y":507000},{"x":2788000,"y":578000},{"x":2846000,"y":570000},{"x":2813000,"y":539000},{"x":3109000,"y":610000},{"x":3117000,"y":578000},{"x":3142000,"y":555000},{"x":3216000,"y":531000},{"x":3298000,"y":586000},{"x":3306000,"y":523000},{"x":3241000,"y":500000},{"x":3265000,"y":453000},{"x":3471000,"y":531000},{"x":3652000,"y":578000},{"x":3578000,"y":453000},{"x":3002000,"y":453000},{"x":2187000,"y":421000},{"x":2772000,"y":437000},{"x":2031000,"y":374000},{"x":3092000,"y":397000},{"x":2533000,"y":358000},{"x":2484000,"y":303000},{"x":3273000,"y":374000},{"x":3339000,"y":390000},{"x":3348000,"y":280000},{"x":2360000,"y":248000},{"x":2409000,"y":217000},{"x":2385000,"y":170000},{"x":2064000,"y":225000},{"x":2706000,"y":217000},{"x":3669000,"y":256000},{"x":3677000,"y":225000},{"x":3504000,"y":201000},{"x":3537000,"y":209000},{"x":3043000,"y":170000},{"x":3216000,"y":193000},{"x":2204000,"y":146000},{"x":3125000,"y":115000},{"x":2747000,"y":91000},{"x":2179000,"y":52000},{"x":2089000,"y":13000},{"x":1891000,"y":5000},{"x":2944000,"y":36000},{"x":2985000,"y":36000},{"x":3060000,"y":0},{"x":3413000,"y":60000},{"x":3562000,"y":13000},{"x":3677000,"y":36000},{"x":4056000,"y":1858000},{"x":5035000,"y":1874000},{"x":3743000,"y":1764000},{"x":3842000,"y":1772000},{"x":3834000,"y":1741000},{"x":3866000,"y":1725000},{"x":3908000,"y":1756000},{"x":4352000,"y":1811000},{"x":4336000,"y":1780000},{"x":4336000,"y":1733000},{"x":4443000,"y":1748000},{"x":4484000,"y":1756000},{"x":4574000,"y":1835000},{"x":4599000,"y":1874000},{"x":4582000,"y":1780000},{"x":4607000,"y":1717000},{"x":4681000,"y":1725000},{"x":4747000,"y":1717000},{"x":4204000,"y":1709000},{"x":3990000,"y":1631000},{"x":4097000,"y":1654000},{"x":4261000,"y":1631000},{"x":4426000,"y":1623000},{"x":4467000,"y":1654000},{"x":4451000,"y":1591000},{"x":4730000,"y":1654000},{"x":4763000,"y":1631000},{"x":4805000,"y":1591000},{"x":4665000,"y":1607000},{"x":4689000,"y":1576000},{"x":4681000,"y":1513000},{"x":4755000,"y":1536000},{"x":4755000,"y":1513000},{"x":4887000,"y":1576000},{"x":4945000,"y":1591000},{"x":4961000,"y":1529000},{"x":5027000,"y":1536000},{"x":5035000,"y":1474000},{"x":5093000,"y":1591000},{"x":5117000,"y":1560000},{"x":5117000,"y":1497000},{"x":5175000,"y":1654000},{"x":5257000,"y":1646000},{"x":5397000,"y":1646000},{"x":5183000,"y":1560000},{"x":5249000,"y":1560000},{"x":5265000,"y":1536000},{"x":3817000,"y":1568000},{"x":3858000,"y":1505000},{"x":4031000,"y":1505000},{"x":4097000,"y":1552000},{"x":4303000,"y":1552000},{"x":4336000,"y":1536000},{"x":4459000,"y":1536000},{"x":4492000,"y":1521000},{"x":4533000,"y":1552000},{"x":5422000,"y":1474000},{"x":4006000,"y":1450000},{"x":3932000,"y":1434000},{"x":3957000,"y":1411000},{"x":3850000,"y":1419000},{"x":3883000,"y":1426000},{"x":3834000,"y":1387000},{"x":4270000,"y":1419000},{"x":4393000,"y":1426000},{"x":4467000,"y":1419000},{"x":4475000,"y":1395000},{"x":4533000,"y":1395000},{"x":4582000,"y":1395000},{"x":4648000,"y":1411000},{"x":4838000,"y":1434000},{"x":4838000,"y":1395000},{"x":4887000,"y":1466000},{"x":4953000,"y":1466000},{"x":4895000,"y":1426000},{"x":4953000,"y":1411000},{"x":5109000,"y":1419000},{"x":5175000,"y":1434000},{"x":5232000,"y":1426000},{"x":5298000,"y":1379000},{"x":3759000,"y":1364000},{"x":3866000,"y":1356000},{"x":3858000,"y":1332000},{"x":4928000,"y":1356000},{"x":4969000,"y":1340000},{"x":5084000,"y":1332000},{"x":5405000,"y":1356000},{"x":3776000,"y":1285000},{"x":3825000,"y":1277000},{"x":4146000,"y":1309000},{"x":4171000,"y":1277000},{"x":4270000,"y":1293000},{"x":4327000,"y":1293000},{"x":4344000,"y":1340000},{"x":4533000,"y":1293000},{"x":4747000,"y":1301000},{"x":4854000,"y":1285000},{"x":5274000,"y":1285000},{"x":5068000,"y":1246000},{"x":4023000,"y":1269000},{"x":4039000,"y":1207000},{"x":4113000,"y":1191000},{"x":4171000,"y":1167000},{"x":4229000,"y":1199000},{"x":4278000,"y":1175000},{"x":4541000,"y":1183000},{"x":4681000,"y":1183000},{"x":5307000,"y":1199000},{"x":4747000,"y":1128000},{"x":3932000,"y":1152000},{"x":3784000,"y":1128000},{"x":4072000,"y":1128000},{"x":4006000,"y":1097000},{"x":5142000,"y":1049000},{"x":4434000,"y":1034000},{"x":5265000,"y":1057000},{"x":3751000,"y":1042000},{"x":3677000,"y":1034000},{"x":3727000,"y":994000},{"x":3858000,"y":1002000},{"x":3973000,"y":987000},{"x":3998000,"y":955000},{"x":4187000,"y":963000},{"x":4245000,"y":924000},{"x":4270000,"y":979000},{"x":4303000,"y":987000},{"x":4459000,"y":963000},{"x":4517000,"y":1002000},{"x":4920000,"y":955000},{"x":5249000,"y":963000},{"x":5298000,"y":1002000},{"x":5257000,"y":908000},{"x":5051000,"y":900000},{"x":5084000,"y":845000},{"x":5430000,"y":955000},{"x":5389000,"y":908000},{"x":4640000,"y":924000},{"x":4582000,"y":884000},{"x":4443000,"y":900000},{"x":4492000,"y":877000},{"x":4533000,"y":829000},{"x":3718000,"y":837000},{"x":4015000,"y":829000},{"x":4031000,"y":790000},{"x":4097000,"y":829000},{"x":4105000,"y":869000},{"x":4294000,"y":782000},{"x":4352000,"y":790000},{"x":4714000,"y":806000},{"x":3891000,"y":751000},{"x":4130000,"y":727000},{"x":4706000,"y":743000},{"x":4763000,"y":727000},{"x":4739000,"y":696000},{"x":5068000,"y":751000},{"x":5249000,"y":767000},{"x":4426000,"y":712000},{"x":4533000,"y":696000},{"x":3702000,"y":665000},{"x":3801000,"y":665000},{"x":4220000,"y":672000},{"x":4064000,"y":680000},{"x":4039000,"y":617000},{"x":4294000,"y":625000},{"x":4393000,"y":625000},{"x":4434000,"y":617000},{"x":4508000,"y":665000},{"x":4533000,"y":602000},{"x":4755000,"y":641000},{"x":4714000,"y":594000},{"x":4681000,"y":610000},{"x":5010000,"y":696000},{"x":5043000,"y":633000},{"x":4961000,"y":625000},{"x":4895000,"y":602000},{"x":3866000,"y":610000},{"x":3932000,"y":570000},{"x":3899000,"y":562000},{"x":3669000,"y":578000},{"x":3735000,"y":523000},{"x":4122000,"y":562000},{"x":4122000,"y":507000},{"x":4023000,"y":523000},{"x":3973000,"y":500000},{"x":3941000,"y":445000},{"x":5224000,"y":586000},{"x":5405000,"y":586000},{"x":5339000,"y":539000},{"x":5109000,"y":531000},{"x":4829000,"y":547000},{"x":4838000,"y":507000},{"x":4311000,"y":515000},{"x":4418000,"y":484000},{"x":4591000,"y":460000},{"x":5043000,"y":484000},{"x":5019000,"y":437000},{"x":5224000,"y":460000},{"x":5101000,"y":405000},{"x":5167000,"y":374000},{"x":5241000,"y":398000},{"x":5438000,"y":398000},{"x":3825000,"y":398000},{"x":3850000,"y":405000},{"x":4097000,"y":398000},{"x":4311000,"y":421000},{"x":4418000,"y":366000},{"x":4549000,"y":390000},{"x":4582000,"y":350000},{"x":4549000,"y":303000},{"x":3990000,"y":343000},{"x":4212000,"y":295000},{"x":4920000,"y":311000},{"x":4986000,"y":295000},{"x":5002000,"y":264000},{"x":4961000,"y":240000},{"x":4936000,"y":217000},{"x":5257000,"y":295000},{"x":5389000,"y":295000},{"x":5389000,"y":248000},{"x":3677000,"y":264000},{"x":3685000,"y":225000},{"x":3883000,"y":225000},{"x":3932000,"y":225000},{"x":3965000,"y":209000},{"x":4204000,"y":209000},{"x":4443000,"y":217000},{"x":4426000,"y":162000},{"x":5232000,"y":209000},{"x":5274000,"y":209000},{"x":5051000,"y":178000},{"x":5060000,"y":146000},{"x":3727000,"y":170000},{"x":3998000,"y":138000},{"x":4080000,"y":123000},{"x":4113000,"y":130000},{"x":3883000,"y":146000},{"x":3908000,"y":138000},{"x":3776000,"y":99000},{"x":3825000,"y":99000},{"x":3883000,"y":99000},{"x":3924000,"y":91000},{"x":3941000,"y":60000},{"x":3990000,"y":60000},{"x":4015000,"y":68000},{"x":4484000,"y":99000},{"x":4410000,"y":60000},{"x":4459000,"y":52000},{"x":4747000,"y":99000},{"x":4747000,"y":44000},{"x":4829000,"y":91000},{"x":4854000,"y":68000},{"x":4961000,"y":107000},{"x":5109000,"y":68000},{"x":5364000,"y":115000},{"x":3685000,"y":36000},{"x":3759000,"y":13000},{"x":3784000,"y":0},{"x":4130000,"y":20000},{"x":4204000,"y":0},{"x":4640000,"y":28000}]},"encoding":{"x":{"field":"x","type":"quantitative","title":"REF","scale":{"domain":[0,6000000],"nice":false},"axis":{"values":[0,1000000,2000000,3000000,4000000,5000000,6000000],"format":"d"}},"y":{"field":"y","type":"quantitative","title":"S_sp_AS12_chr","scale":{"domain":[0,6000000],"nice":false},"axis":{"values":[0,1000000,2000000,3000000,4000000,5000000,6000000],"format":"d","titlePadding":3}}},"layer":[{"data":{"name":"alignment"},"mark":{"type":"line","color":"#ff0000","strokeWidth":3,"clip":false}},{"data":{"name":"matches"},"mark":{"type":"circle","color":"#ff0000","size":80,"opacity":1}},{"data":{"name":"points"},"mark":{"type":"circle","color":"#0080ff","size":80,"opacity":1}},{"data":{"name":"top"},"mark":{"type":"circle","color":"#ff0000","size":80,"opacity":1}}]}
